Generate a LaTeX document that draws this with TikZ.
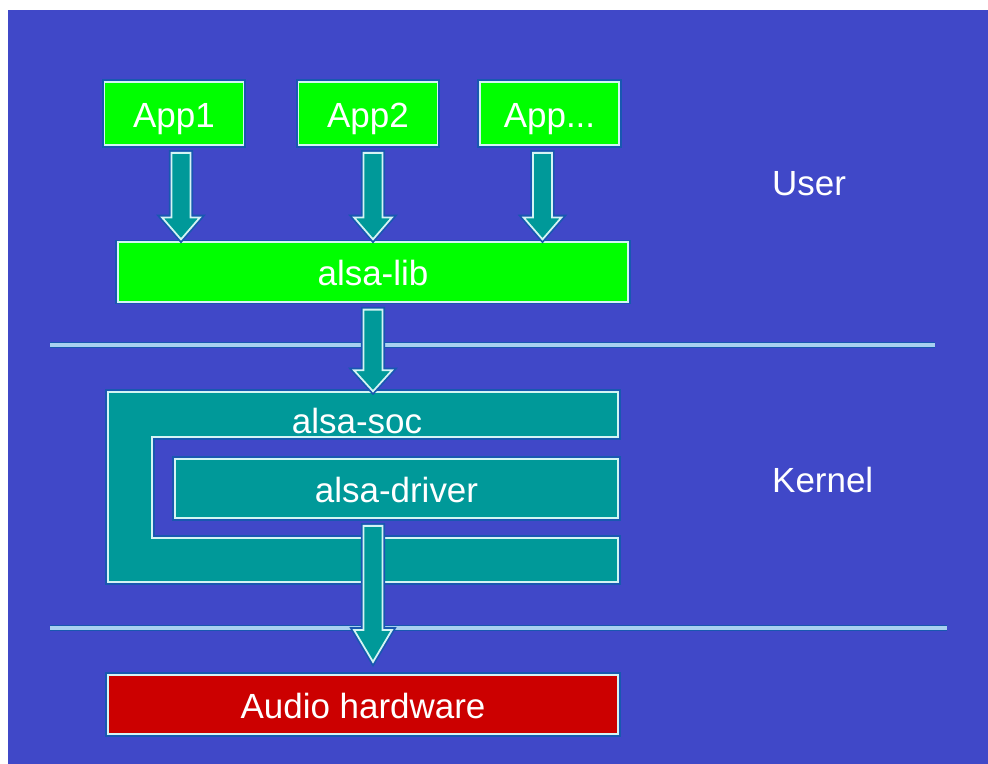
\documentclass[tikz,border=0pt]{standalone}
\usepackage{fontspec}
\setmainfont{Liberation Sans}
\usetikzlibrary{calc}
\definecolor{bgblue}{HTML}{4048C8}
\definecolor{boxgreen}{HTML}{00FF00}
\definecolor{socteal}{HTML}{009999}
\definecolor{hwred}{HTML}{CC0000}
\definecolor{rimc}{HTML}{D4F4F4}
\definecolor{glowc}{HTML}{1858B0}
\definecolor{layerc}{HTML}{A8D0F0}
% block arrow: [style](from)(to)(x shift:tip gap:head length)
\def\blockarrow[#1](#2)(#3)(#4:#5:#6){\draw[#1] ($(#2.south)+(#4-9.5,7)$) -- ($(#2.south)+(#4+9.5,7)$) -- ($(#3.north -| #2.south)+(#4+9.5,-#5-#6)$) -- ($(#3.north -| #2.south)+(#4+19,-#5-#6)$) -- ($(#3.north -| #2.south)+(#4,-#5)$) -- ($(#3.north -| #2.south)+(#4-19,-#5-#6)$) -- ($(#3.north -| #2.south)+(#4-9.5,-#5-#6)$) -- cycle;}

\begin{document}
\begin{tikzpicture}[x=0.02cm, y=-0.02cm,
	rim/.style={draw=rimc, line width=1pt, preaction={draw=glowc, line width=3pt}},
	txt/.style={text=white, font=\fontsize{19.9}{24}\selectfont, text height=0.62cm, text depth=0.06cm},
	appbox/.style={rim, txt, fill=boxgreen, minimum width=2.78cm, minimum height=1.26cm},
	widebox/.style={rim, txt, minimum width=10.2cm, minimum height=1.19cm},
	barrow/.style={rim, fill=socteal},
	layer/.style={draw=layerc, line width=1.8pt, preaction={draw=glowc, line width=3.4pt}}]
			%%%%% START %%%%%
			\useasboundingbox (0,0) rectangle (988,764);
			\fill[bgblue] (8,10) rectangle (988,764);
			
			\draw[layer] (50,345) -- (935,345);
			\draw[layer] (50,628) -- (947,628);
			
			\node[appbox] (app1) at (174,113.5) {App1};
			\node[appbox] (app2) at (368,113.5) {App2};
			\node[appbox] (app3) at (549.5,113.5) {App...};
			\node[widebox, fill=boxgreen] (lib) at (373,272) {alsa-lib};
			
			\draw[rim, fill=socteal] (108,392) -- (618,392) -- (618,437) -- (152,437) -- (152,538) -- (618,538) -- (618,582) -- (108,582) -- cycle;
			\node[txt, minimum width=10.2cm, minimum height=0.9cm] (soc) at (357,419) {alsa-soc};
			\node[rim, txt, fill=socteal, minimum width=8.86cm, minimum height=1.18cm] (driver) at (396.5,488.5) {alsa-driver};
			\node[widebox, fill=hwred] (hw) at (363,704.5) {Audio hardware};
			
			\node[txt, anchor=west] (user) at (766,182) {User};
			\node[txt, anchor=west] (kernel) at (766,478) {Kernel};
			
			\blockarrow[barrow](app1)(lib)(7:2:22)
			\blockarrow[barrow](app2)(lib)(5:2:22)
			\blockarrow[barrow](app3)(lib)(-7:2:22)
			\blockarrow[barrow](lib)(soc)(0:4.5:21)
			\blockarrow[barrow](driver)(hw)(-23.5:12:32)
			%%%%% END %%%%%
\end{tikzpicture}
\end{document}
